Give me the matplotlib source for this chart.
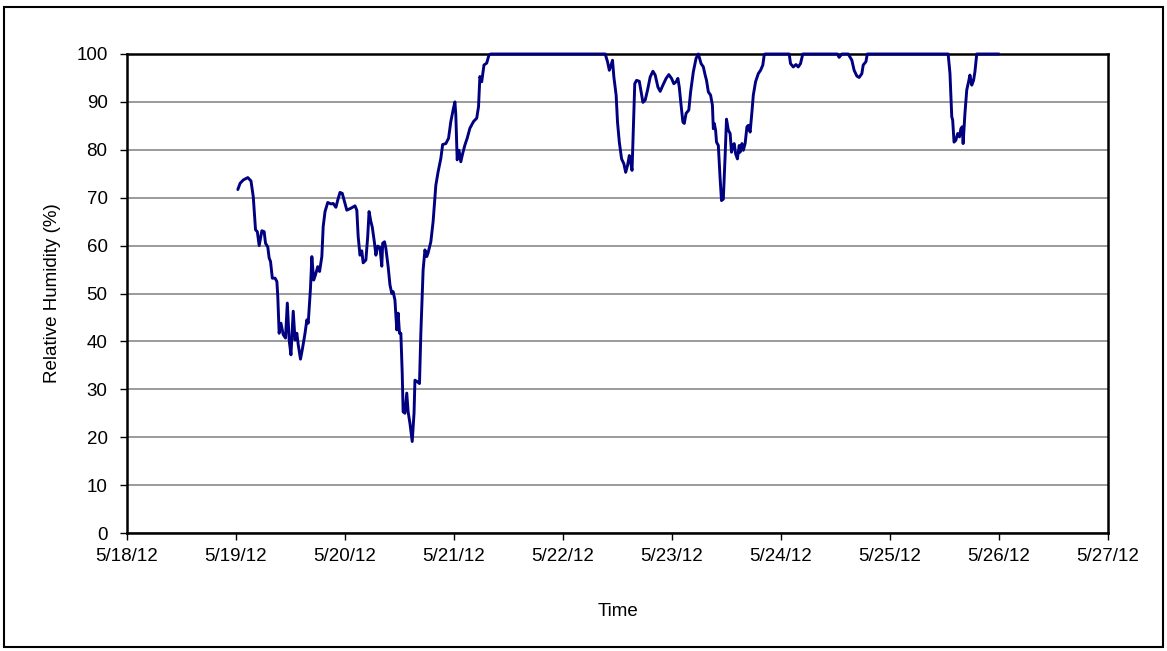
import matplotlib
matplotlib.use("Agg")
import matplotlib.pyplot as plt
import matplotlib.dates as mdates
import numpy as np
import pandas as pd
from matplotlib.patches import Rectangle

plt.rcParams['font.family'] = ['Liberation Sans', 'DejaVu Sans']

# hours after 5/19/12 00:00
hours = [0.4, 0.9, 1.6, 2.6, 3.3, 3.8, 4.3, 4.7, 5.1, 5.7, 6.2, 6.5, 7.0, 7.3, 7.6, 8.0, 8.6, 9.0, 9.2, 9.5,
         9.9, 10.4, 10.9, 11.3, 11.7, 12.1, 12.6, 13.0, 13.4, 13.7, 14.2, 14.6, 15.2, 15.6, 15.9, 16.4, 16.7,
         17.1, 17.5, 18.0, 18.4, 18.9, 19.2, 19.6, 20.2, 20.9, 21.4, 22.0, 22.4, 22.9, 23.4, 23.8, 24.4, 25.3,
         26.2, 26.6, 26.9, 27.3, 27.7, 28.0, 28.6, 29.0, 29.3, 29.7, 30.0, 30.5, 30.8, 31.2, 31.7, 32.1, 32.3,
         32.7, 33.0, 33.5, 33.9, 34.3, 34.6, 35.0, 35.4, 35.7, 36.0, 36.3, 36.6, 36.8, 37.2, 37.6, 37.9, 38.3,
         38.8, 39.2, 39.4, 39.9, 40.4, 40.7, 41.2, 41.6, 42.0, 42.3, 42.9, 43.4, 44.0, 44.5, 45.1, 45.5, 46.2,
         46.8, 47.3, 47.8, 48.2, 48.4, 48.7, 49.1, 49.5, 49.9, 50.4, 50.9, 51.5, 52.3, 53.0, 53.4, 53.7, 54.1,
         54.6, 55.2, 55.7, 56.1, 81.3, 81.8, 82.2, 82.6, 82.9, 83.2, 83.7, 84.0, 84.4, 84.9, 85.4, 85.8, 86.2,
         86.6, 86.9, 87.2, 87.5, 87.8, 88.2, 88.8, 89.2, 89.6, 90.1, 90.6, 91.2, 91.8, 92.3, 92.9, 93.4, 94.0,
         94.7, 95.3, 95.9, 96.4, 96.9, 97.3, 97.6, 98.0, 98.4, 98.7, 99.1, 99.7, 100.1, 100.7, 101.3, 101.8,
         102.4, 102.9, 103.3, 103.6, 104.0, 104.5, 104.9, 105.1, 105.3, 105.6, 105.8, 106.2, 106.6, 106.9,
         107.3, 107.7, 108.0, 108.4, 108.8, 109.1, 109.4, 109.7, 110.0, 110.4, 110.8, 111.0, 111.4, 111.7,
         112.1, 112.5, 112.8, 113.2, 113.6, 113.9, 114.4, 115.0, 115.5, 116.0, 116.3, 116.5, 121.8, 122.1,
         122.7, 123.3, 123.8, 124.3, 124.8, 132.4, 132.8, 133.4, 134.8, 135.6, 136.1, 136.7, 137.2, 137.8,
         138.1, 138.7, 139.0, 156.8, 157.2, 157.6, 157.8, 158.1, 158.5, 158.9, 159.3, 159.6, 159.9, 160.1,
         160.5, 160.9, 161.3, 161.6, 162.0, 162.4, 162.7, 163.1, 168.0]

humidity = [71.7, 73.0, 73.7, 74.2, 73.5, 70.2, 63.3, 62.9, 60.0, 63.1, 62.9, 60.5, 59.7, 57.4, 56.7, 53.2, 53.2,
            52.5, 49.4, 41.7, 43.8, 41.4, 40.7, 48.0, 40.3, 37.2, 46.3, 40.3, 41.7, 39.3, 36.3, 38.3, 41.7, 44.5,
            43.8, 51.1, 57.7, 52.8, 53.9, 55.6, 54.6, 57.7, 64.0, 67.1, 69.0, 68.7, 68.8, 68.0, 69.5, 71.1, 70.9,
            69.5, 67.4, 67.8, 68.3, 67.4, 61.9, 58.0, 58.9, 56.4, 57.0, 61.9, 67.1, 65.0, 63.9, 60.5, 58.0, 59.9,
            59.6, 55.7, 60.5, 60.8, 59.4, 55.6, 51.8, 50.0, 50.4, 48.6, 42.4, 45.9, 41.7, 41.7, 33.3, 25.3, 25.0,
            29.2, 25.3, 22.9, 19.1, 25.0, 31.9, 31.6, 31.2, 41.7, 54.9, 59.1, 57.7, 58.5, 60.8, 65.0, 72.6, 75.4,
            78.2, 81.1, 81.3, 82.4, 85.9, 88.3, 90.0, 87.3, 77.9, 79.9, 77.5, 79.2, 81.0, 82.4, 84.5, 85.9, 86.6,
            89.0, 95.3, 94.2, 97.7, 98.1, 99.8, 100.0, 100.0, 98.4, 96.6, 97.7, 98.7, 95.2, 91.4, 85.8, 81.6, 78.1,
            77.1, 75.3, 76.7, 78.8, 77.4, 75.7, 84.4, 93.8, 94.5, 94.3, 92.1, 89.9, 90.4, 92.4, 95.2, 96.4, 95.6,
            93.1, 92.2, 93.5, 94.9, 95.7, 94.9, 93.8, 94.2, 94.9, 93.1, 89.3, 85.8, 85.5, 87.6, 88.3, 92.1, 96.3,
            99.1, 100.0, 98.0, 97.3, 95.6, 94.5, 92.1, 91.4, 89.3, 84.4, 85.5, 84.1, 81.6, 80.9, 73.9, 69.4, 69.7,
            78.8, 86.4, 84.1, 83.4, 79.5, 80.9, 81.3, 79.2, 78.1, 80.9, 79.5, 81.3, 79.9, 81.3, 84.8, 85.1, 83.7,
            87.9, 91.4, 94.2, 95.9, 96.6, 97.7, 99.8, 100.0, 100.0, 98.0, 97.3, 97.8, 97.3, 98.0, 100.0, 100.0,
            99.3, 100.0, 100.0, 98.7, 96.6, 95.4, 95.1, 95.9, 97.7, 98.4, 100.0, 100.0, 96.0, 86.9, 86.2, 81.6,
            82.0, 83.4, 82.7, 84.4, 84.8, 81.3, 87.6, 92.5, 94.2, 95.6, 93.5, 94.5, 96.3, 100.0, 100.0]

start = pd.Timestamp("2012-05-19")
times = start + pd.to_timedelta(hours, unit="h")

fig = plt.figure(figsize=(11.67, 6.51), dpi=100)
fig.patches.append(Rectangle((3.5 / 1167, 4.5 / 651), 1159 / 1167, 640 / 651, transform=fig.transFigure,
                             fill=False, edgecolor='black', linewidth=1.5))

ax = fig.add_axes([127 / 1167, (651 - 533) / 651, 981 / 1167, 479 / 651])
ax.plot(times, humidity, color='#000080', linewidth=2.1, zorder=5, clip_on=False,
        solid_joinstyle='round', solid_capstyle='round')

ax.set_xlim(pd.Timestamp("2012-05-18"), pd.Timestamp("2012-05-27"))
ax.set_ylim(0, 100)
ax.set_yticks(np.arange(0, 101, 10))
ax.xaxis.set_major_locator(mdates.DayLocator())
ax.xaxis.set_major_formatter(mdates.DateFormatter('%-m/%-d/%y'))

ax.yaxis.grid(True, color='#808080', linewidth=1.1)
ax.set_axisbelow(True)
for s in ax.spines.values():
    s.set_linewidth(1.8)
    s.set_color('black')

ax.tick_params(axis='both', direction='out', length=5, width=1, labelsize=13.5, colors='black')
ax.tick_params(axis='y', pad=9)
ax.tick_params(axis='x', pad=6)

ax.set_ylabel('Relative Humidity (%)', fontsize=13.5, labelpad=11)
ax.set_xlabel('Time', fontsize=13.5, labelpad=27)

fig.savefig('out.png', dpi=100)
